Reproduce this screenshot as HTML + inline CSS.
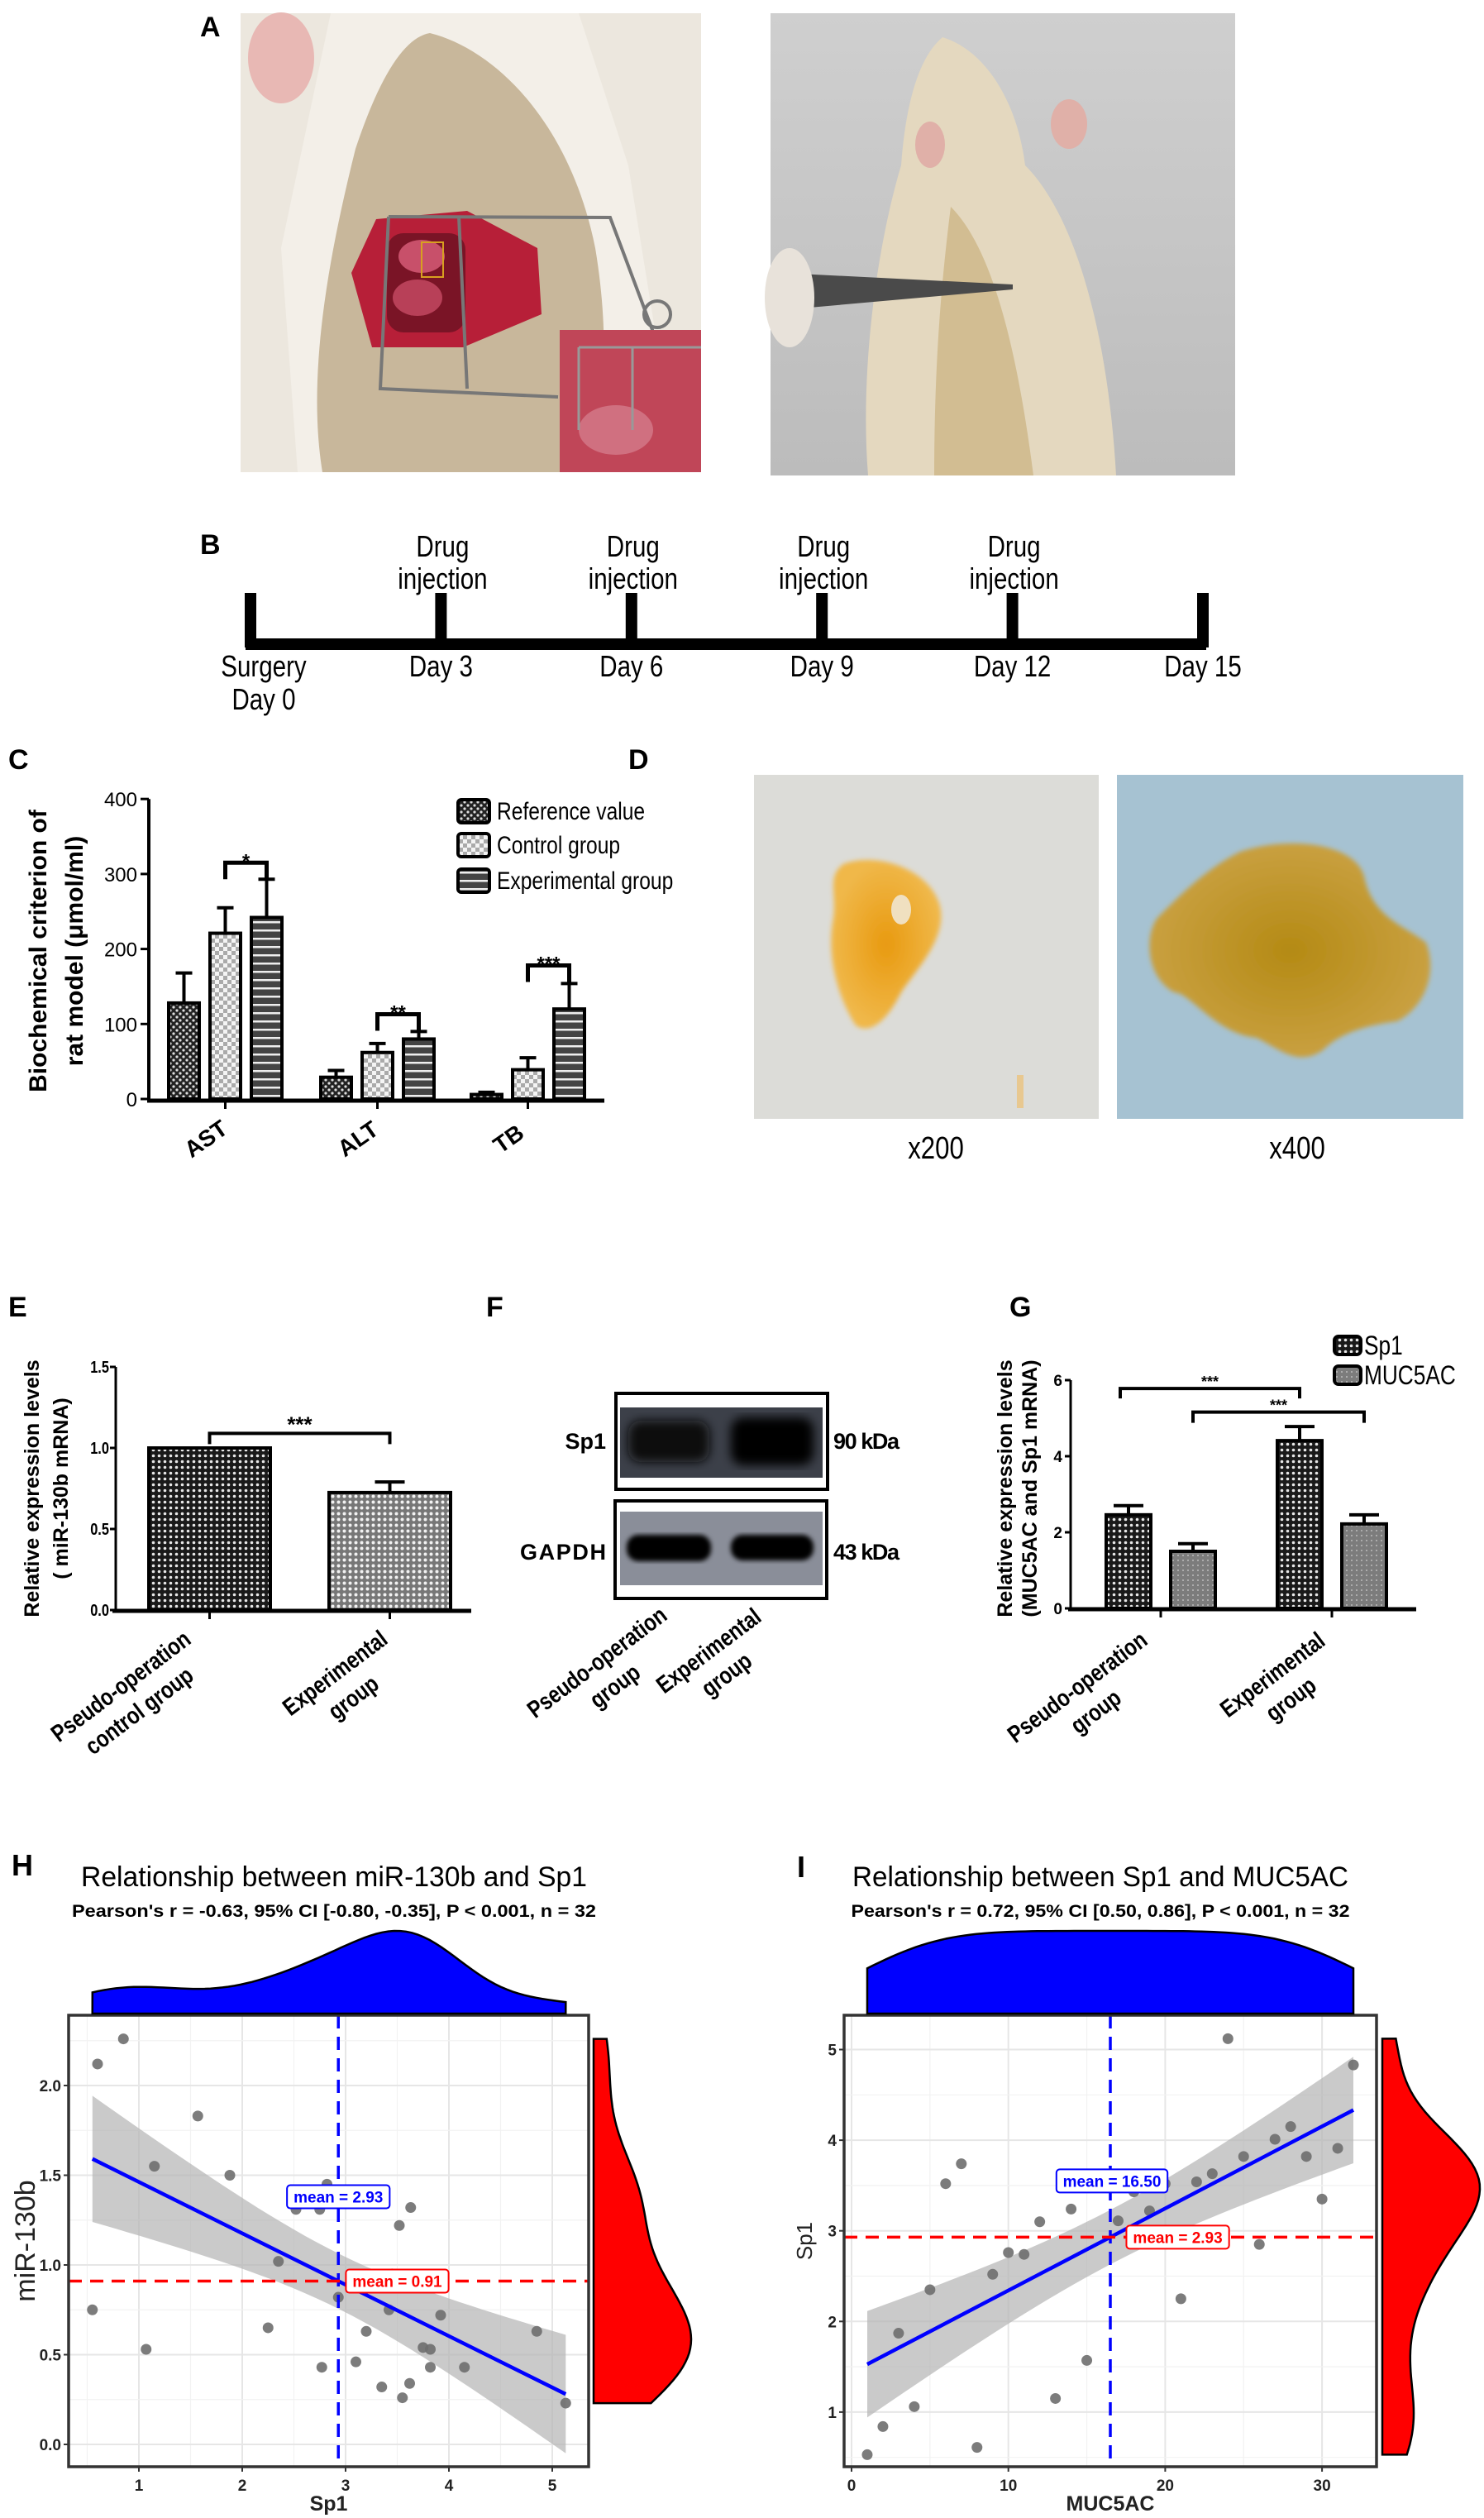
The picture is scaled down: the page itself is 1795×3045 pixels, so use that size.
<!DOCTYPE html>
<html><head><meta charset="utf-8">
<style>
html,body{margin:0;padding:0;background:#fff;}
svg{display:block;}
text{font-family:"Liberation Sans",sans-serif;}
.nar{font-family:"Liberation Sans Narrow","Liberation Sans",sans-serif;}
</style></head>
<body>
<svg id="fig" xmlns="http://www.w3.org/2000/svg" width="1795" height="3045" viewBox="0 0 1795 3045">
<defs>
<pattern id="pCross" width="8" height="8" patternUnits="userSpaceOnUse"><rect width="8" height="8" fill="#222"/><circle cx="2" cy="2" r="1.6" fill="#ddd"/><circle cx="6" cy="6" r="1.6" fill="#ddd"/></pattern>
<pattern id="pCheck" width="10" height="10" patternUnits="userSpaceOnUse"><rect width="10" height="10" fill="#f4f4f4"/><rect x="0" y="0" width="5" height="5" fill="#aaa"/><rect x="5" y="5" width="5" height="5" fill="#aaa"/></pattern>
<pattern id="pStripe" width="8" height="10" patternUnits="userSpaceOnUse"><rect width="8" height="10" fill="#444"/><rect y="4" width="8" height="2.5" fill="#eee"/></pattern>
<pattern id="pDark" width="7" height="7" patternUnits="userSpaceOnUse"><rect width="7" height="7" fill="#1a1a1a"/><circle cx="3.5" cy="3.5" r="1.8" fill="#e8e8e8"/></pattern>
<pattern id="pLight" width="7" height="7" patternUnits="userSpaceOnUse"><rect width="7" height="7" fill="#777"/><circle cx="3.5" cy="3.5" r="2" fill="#f2f2f2"/></pattern>
<pattern id="pMuc" width="6" height="6" patternUnits="userSpaceOnUse"><rect width="6" height="6" fill="#7c7c7c"/><circle cx="3" cy="3" r="1" fill="#bbb"/></pattern>
<linearGradient id="gBg2" x1="0" y1="0" x2="0" y2="1"><stop offset="0" stop-color="#cfcfcf"/><stop offset="1" stop-color="#bcbcbc"/></linearGradient>
<radialGradient id="gBlob1"><stop offset="0" stop-color="#e89a10"/><stop offset="1" stop-color="#f0b84a"/></radialGradient>
<radialGradient id="gBlob2"><stop offset="0" stop-color="#b48a14"/><stop offset="1" stop-color="#c9a040"/></radialGradient>
<filter id="blur3"><feGaussianBlur stdDeviation="3"/></filter>
<filter id="blur6"><feGaussianBlur stdDeviation="6"/></filter>
</defs>

<text x="242" y="44" font-size="34" font-weight="bold">A</text>
<g>
  <rect x="291" y="16" width="557" height="555" fill="#ece7de"/>
  <path d="M400,16 L700,16 L760,200 L820,571 L360,571 L340,300 Z" fill="#f3efe8"/>
  <path d="M520,40 C600,60 690,150 720,300 C740,420 730,520 700,571 L390,571 C370,450 400,300 430,180 C460,90 490,45 520,40 Z" fill="#c8b79b"/>
  <ellipse cx="340" cy="70" rx="40" ry="55" fill="#e8b8b4"/>
  <path d="M455,265 L565,255 L650,300 L655,380 L560,420 L450,420 L425,330 Z" fill="#b71f38"/>
  <rect x="468" y="282" width="95" height="120" rx="20" fill="#7a1426"/>
  <ellipse cx="510" cy="310" rx="28" ry="20" fill="#c8506a"/><ellipse cx="505" cy="360" rx="30" ry="22" fill="#b84058"/>
  <rect x="510" y="293" width="26" height="42" fill="none" stroke="#d8a020" stroke-width="2"/>
  <path d="M470,262 L738,263 L812,460 M470,262 L460,470 L675,480 M555,262 L565,470" fill="none" stroke="#777" stroke-width="4"/>
  <circle cx="795" cy="380" r="16" fill="none" stroke="#777" stroke-width="4"/>
  <rect x="677" y="399" width="171" height="172" fill="#c04658"/>
  <ellipse cx="745" cy="520" rx="45" ry="30" fill="#d07080"/>
  <path d="M700,420 L848,420 M700,420 L700,520 M765,420 L765,520" stroke="#999" stroke-width="3" fill="none"/>
</g>
<g>
  <rect x="932" y="16" width="562" height="559" fill="url(#gBg2)"/>
  <path d="M1140,45 C1190,60 1230,120 1240,200 C1300,260 1340,400 1350,575 L1050,575 C1040,450 1060,300 1090,200 C1095,130 1110,70 1140,45 Z" fill="#e4d8bf"/>
  <path d="M1150,250 C1200,300 1230,420 1250,575 L1130,575 C1130,430 1140,330 1150,250 Z" fill="#d2bd92"/>
  <ellipse cx="1293" cy="150" rx="22" ry="30" fill="#e0b0a8"/>
  <ellipse cx="1125" cy="175" rx="18" ry="28" fill="#e0b0a8"/>
  <polygon points="945,330 1225,344 1225,350 945,375" fill="#4a4a4a"/>
  <ellipse cx="955" cy="360" rx="30" ry="60" fill="#e8e2da"/>
</g>

<g>
  <text x="242" y="670" font-size="34" font-weight="bold">B</text>
  <rect x="297" y="772" width="1162" height="14" fill="#000"/>
  <g id="tl" class="nar" font-size="36" text-anchor="middle"></g>
</g>

<text x="10" y="930" font-size="34" font-weight="bold">C</text>
<g id="chartC"></g>

<text x="760" y="930" font-size="34" font-weight="bold">D</text>
<g>
  <rect x="912" y="937" width="417" height="416" fill="#dcdcd8"/>
  <path d="M1020,1045 C1060,1030 1120,1050 1135,1090 C1150,1130 1110,1170 1090,1200 C1070,1240 1050,1250 1035,1240 C1010,1200 1000,1150 1008,1110 C1012,1080 1000,1060 1020,1045 Z" fill="url(#gBlob1)" filter="url(#blur3)"/>
  <ellipse cx="1090" cy="1100" rx="12" ry="18" fill="#f0e0c0"/>
  <rect x="1230" y="1300" width="8" height="40" fill="#e8c890"/>
</g>
<g>
  <rect x="1351" y="937" width="419" height="416" fill="#a6c2d2"/>
  <path d="M1500,1030 C1560,1010 1640,1020 1650,1060 C1660,1110 1700,1120 1725,1140 C1740,1180 1720,1220 1690,1235 C1650,1240 1620,1250 1600,1270 C1570,1290 1550,1270 1520,1255 C1470,1250 1440,1200 1420,1200 C1385,1180 1385,1130 1400,1110 C1430,1080 1460,1050 1500,1030 Z" fill="url(#gBlob2)" filter="url(#blur3)"/>
</g>
<text class="nar" x="1132" y="1401" font-size="38" text-anchor="middle">x200</text>
<text class="nar" x="1569" y="1401" font-size="38" text-anchor="middle">x400</text>

<text x="10" y="1592" font-size="34" font-weight="bold">E</text>
<g id="chartE"></g>

<text x="588" y="1592" font-size="34" font-weight="bold">F</text>
<g>
  <rect x="745" y="1685" width="256" height="116" fill="#fff" stroke="#000" stroke-width="4"/>
  <rect x="750" y="1702" width="245" height="85" fill="#3c4049"/>
  <g filter="url(#blur6)"><rect x="760" y="1718" width="98" height="50" rx="15" fill="#0a0a0a"/><rect x="884" y="1714" width="100" height="58" rx="15" fill="#000"/></g>
  <rect x="744" y="1815" width="256" height="118" fill="#fff" stroke="#000" stroke-width="4"/>
  <rect x="750" y="1828" width="245" height="89" fill="#8a8e99"/>
  <g filter="url(#blur3)"><rect x="758" y="1856" width="102" height="32" rx="14" fill="#050505"/><rect x="884" y="1856" width="100" height="31" rx="14" fill="#050505"/></g>
  <text x="733" y="1752" font-size="27" font-weight="bold" text-anchor="end">Sp1</text>
  <text x="733" y="1886" font-size="27" font-weight="bold" text-anchor="end" textLength="104">GAPDH</text>
  <text x="1008" y="1752" font-size="27" font-weight="bold" textLength="80">90 kDa</text>
  <text x="1008" y="1886" font-size="27" font-weight="bold" textLength="80">43 kDa</text>
  <g font-size="29" font-weight="bold" text-anchor="middle" class="nar">
    <text class="nar" transform="translate(728,2018) rotate(-37)"><tspan x="0" y="0">Pseudo-operation</tspan><tspan x="0" y="36">group</tspan></text>
    <text class="nar" transform="translate(863,2004) rotate(-37)"><tspan x="0" y="0">Experimental</tspan><tspan x="0" y="36">group</tspan></text>
  </g>
</g>

<text x="1221" y="1592" font-size="34" font-weight="bold">G</text>
<g id="chartG"></g>

<text x="14" y="2268" font-size="36" font-weight="bold">H</text>
<g id="chartH"></g>
<text x="964" y="2270" font-size="36" font-weight="bold">I</text>
<g id="chartI"></g>
</svg>

<script>
const tlDays = ["Day 0","Day 3","Day 6","Day 9","Day 12","Day 15"];
const tlDayNums = [0,3,6,9,12,15];
const tlInjection = [false,true,true,true,true,false];

const cCategories = ["AST","ALT","TB"];
const cSeries = ["Reference value","Control group","Experimental group"];
const cRef = [128,29,6];
const cRefErr = [168,38,9];
const cCtrl = [221,62,39];
const cCtrlErr = [255,74,55];
const cExp = [242,80,120];
const cExpErr = [293,90,154];
const cYTicks = [0,100,200,300,400];
const cSigLevel = [315,113,178];
const cSigLabel = ["*","**","***"];

const eCategories = ["Pseudo-operation control group","Experimental group"];
const eValues = [1.0,0.725];
const eErr = [1.0,0.79];
const eYTicks = [0,0.5,1.0,1.5];
const eYTickLabels = ["0.0","0.5","1.0","1.5"];

const gCategories = ["Pseudo-operation group","Experimental group"];
const gSp1 = [2.46,4.41];
const gSp1Err = [2.7,4.78];
const gMuc = [1.5,2.22];
const gMucErr = [1.7,2.46];
const gYTicks = [0,2,4,6];

const hSp1 = [0.55,0.6,0.85,1.07,1.15,1.57,1.88,2.25,2.35,2.52,2.75,2.77,2.82,2.93,3.1,3.2,3.35,3.42,3.52,3.55,3.62,3.63,3.75,3.82,3.82,3.92,4.15,4.85,5.13,3.45,3.7,3.72];
const hMir = [0.75,2.12,2.26,0.53,1.55,1.83,1.5,0.65,1.02,1.31,1.31,0.43,1.45,0.82,0.46,0.63,0.32,0.75,1.22,0.26,0.34,1.32,0.54,0.53,0.43,0.72,0.43,0.63,0.23,0.95,0.9,0.93];
const hXTicks = [1,2,3,4,5];
const hYTicks = [0,0.5,1.0,1.5,2.0];
const hYTickLabels = ["0.0","0.5","1.0","1.5","2.0"];

const iMuc = [1,2,3,4,5,6,7,8,9,10,11,12,13,14,15,16,17,18,19,20,21,22,23,24,25,26,27,28,29,30,31,32];
const iSp1 = [0.53,0.84,1.87,1.06,2.35,3.52,3.74,0.61,2.52,2.76,2.74,3.1,1.15,3.24,1.57,3.6,3.11,3.43,3.22,3.52,2.25,3.54,3.63,5.12,3.82,2.85,4.01,4.15,3.82,3.35,3.91,4.83];
const iXTicks = [0,10,20,30];
const iYTicks = [1,2,3,4,5];

const NS = "http://www.w3.org/2000/svg";
function mk(tag, attrs, parent){
  const e = document.createElementNS(NS, tag);
  for (const k in attrs) e.setAttribute(k, attrs[k]);
  parent.appendChild(e);
  return e;
}
function txt(parent, x, y, s, attrs){
  const t = mk("text", Object.assign({x:x, y:y}, attrs||{}), parent);
  t.textContent = s;
  return t;
}

(function(){
  const g = document.getElementById("tl");
  const x = d => 303 + d * (1455-303)/15;
  tlDayNums.forEach((d,i)=>{
    const tk = mk("rect",{x:x(d)-7,y:717,width:14,height:66,fill:"#000"},g);
    
    
    if (i===0){
      const t1 = txt(g, x(d)+16, 818, "Surgery",{"class":"nar"});
      
      
      const t2 = txt(g, x(d)+16, 858, "Day 0",{"class":"nar"});
      
      
    } else {
      const t = txt(g, x(d), 818, tlDays[i],{"class":"nar"});
      
      
    }
    if (tlInjection[i]){
      const a = txt(g, x(d)+2, 673, "Drug",{"class":"nar"});
      
      
      const b = txt(g, x(d)+2, 712, "injection",{"class":"nar"});
      
      
    }
  });
})();

function errBar(g, cx, yTop, yErr, half){
  const l = mk("path",{d:`M${cx},${yTop} V${yErr} M${cx-half},${yErr} H${cx+half}`,stroke:"#000","stroke-width":4,fill:"none"},g);
  
  
}

(function(){
  const g = document.getElementById("chartC");
  const y = v => 1329 - v*0.907;
  const groupX = [204,388,570];
  const bw = 37, step = 50;
  mk("line",{x1:180,y1:y(400),x2:180,y2:1331,stroke:"#000","stroke-width":4},g);
  mk("line",{x1:178,y1:1331,x2:731,y2:1331,stroke:"#000","stroke-width":5},g);
  cYTicks.forEach(v=>{
    mk("line",{x1:170,y1:y(v),x2:180,y2:y(v),stroke:"#000","stroke-width":3},g);
    const t = txt(g,166,y(v)+9,String(v),{"font-size":24,"text-anchor":"end"});
    
    
  });
  const yl = mk("text",{transform:"translate(0,1150) rotate(-90)","font-size":30,"font-weight":"bold","text-anchor":"middle"},g);
  
  
  const ts1 = mk("tspan",{x:0,y:56},yl); ts1.textContent="Biochemical criterion of";
  const ts2 = mk("tspan",{x:0,y:100},yl); ts2.textContent="rat model (\u03bcmol/ml)";
  const series = [[cRef,cRefErr,"url(#pCross)"],[cCtrl,cCtrlErr,"url(#pCheck)"],[cExp,cExpErr,"url(#pStripe)"]];
  cCategories.forEach((c,i)=>{
    series.forEach((s,j)=>{
      const x0 = groupX[i] + j*step;
      errBar(g, x0+bw/2, y(s[0][i]), y(s[1][i]), 10);
      const r = mk("rect",{x:x0,y:y(s[0][i]),width:bw,height:y(0)-y(s[0][i]),fill:s[2],stroke:"#000","stroke-width":4},g);
      
      
    });
    const tickX = groupX[i]+step+bw/2;
    mk("line",{x1:tickX,y1:1331,x2:tickX,y2:1341,stroke:"#000","stroke-width":3},g);
    const lb = mk("text",{transform:`translate(${tickX-18},1385) rotate(-35)`,"font-size":28,"font-weight":"bold","text-anchor":"middle"},g);
    lb.textContent = c;
    
    
    const xa = groupX[i]+step+bw/2, xb = groupX[i]+2*step+bw/2, yb = y(cSigLevel[i]);
    const br = mk("path",{d:`M${xa},${yb+20} V${yb} H${xb} V${yb+20}`,stroke:"#000","stroke-width":5,fill:"none"},g);
    
    
    const st = txt(g,(xa+xb)/2,yb+6,cSigLabel[i],{"font-size":24,"text-anchor":"middle","font-weight":"bold"});
    
    
  });
  const fills = ["url(#pCross)","url(#pCheck)","url(#pStripe)"];
  const ly = [981,1022,1065];
  cSeries.forEach((s,i)=>{
    const b = mk("rect",{x:554,y:ly[i]-14,width:38,height:28,fill:fills[i],stroke:"#000","stroke-width":4,rx:4},g);
    
    
    const t = txt(g,601,ly[i]+10,s,{"font-size":30,"class":"nar"});
    
    
  });
})();

(function(){
  const g = document.getElementById("chartE");
  const y = v => 1947 - v*196;
  const barX = [180,398], bw = 147;
  mk("line",{x1:140,y1:y(1.5),x2:140,y2:1948,stroke:"#000","stroke-width":3},g);
  mk("line",{x1:136,y1:1948,x2:570,y2:1948,stroke:"#000","stroke-width":5},g);
  eYTicks.forEach((v,i)=>{
    mk("line",{x1:133,y1:y(v),x2:140,y2:y(v),stroke:"#000","stroke-width":3},g);
    const t = txt(g,132,y(v)+7,eYTickLabels[i],{"font-size":20,"font-weight":"bold","text-anchor":"end","class":"nar"});
    
    
  });
  const yl = mk("text",{transform:"translate(0,1800) rotate(-90)","font-size":25,"font-weight":"bold","text-anchor":"middle"},g);
  
  
  const a = mk("tspan",{x:0,y:47},yl); a.textContent="Relative expression levels";
  const b = mk("tspan",{x:0,y:82},yl); b.textContent="( miR-130b  mRNA)";
  const fills = ["url(#pDark)","url(#pLight)"];
  const centers = [[152,2047],[411,2031]];
  const lines = [["Pseudo-operation","control group"],["Experimental","group"]];
  eValues.forEach((v,i)=>{
    errBar(g, barX[i]+bw/2, y(v), y(eErr[i]), 18);
    const r = mk("rect",{x:barX[i],y:y(v),width:bw,height:y(0)-y(v),fill:fills[i],stroke:"#000","stroke-width":4},g);
    
    
    mk("line",{x1:barX[i]+bw/2,y1:1948,x2:barX[i]+bw/2,y2:1958,stroke:"#000","stroke-width":3},g);
    const lb = mk("text",{transform:`translate(${centers[i][0]},${centers[i][1]}) rotate(-37)`,"font-size":29,"font-weight":"bold","text-anchor":"middle","class":"nar"},g);
    
    
    const t1 = mk("tspan",{x:0,y:0},lb); t1.textContent = lines[i][0];
    const t2 = mk("tspan",{x:0,y:37},lb); t2.textContent = lines[i][1];
  });
  const xa = barX[0]+bw/2, xb = barX[1]+bw/2, yb = y(Math.max(eErr[0],eErr[1])+0.09);
  const br = mk("path",{d:`M${xa},${yb+13} V${yb} H${xb} V${yb+13}`,stroke:"#000","stroke-width":4,fill:"none"},g);
  
  
  const st = txt(g,(xa+xb)/2,yb-2,"***",{"font-size":26,"font-weight":"bold","text-anchor":"middle"});
  
  
})();

(function(){
  const g = document.getElementById("chartG");
  const y = v => 1945 - v*46;
  const sp1X = [1338,1545], mucX = [1416,1623], bw = 54;
  mk("line",{x1:1295,y1:y(6),x2:1295,y2:1946,stroke:"#000","stroke-width":3},g);
  mk("line",{x1:1292,y1:1946,x2:1713,y2:1946,stroke:"#000","stroke-width":5},g);
  gYTicks.forEach(v=>{
    mk("line",{x1:1288,y1:y(v),x2:1295,y2:y(v),stroke:"#000","stroke-width":3},g);
    const t = txt(g,1285,y(v)+7,String(v),{"font-size":19,"font-weight":"bold","text-anchor":"end"});
    
    
  });
  const yl = mk("text",{transform:"translate(0,1800) rotate(-90)","font-size":25,"font-weight":"bold","text-anchor":"middle"},g);
  
  
  const a = mk("tspan",{x:0,y:1224},yl); a.textContent="Relative expression levels";
  const b = mk("tspan",{x:0,y:1254},yl); b.textContent="(MUC5AC and Sp1 mRNA)";
  const centers = [[1309,2048],[1545,2033]];
  const lines = [["Pseudo-operation","group"],["Experimental","group"]];
  gCategories.forEach((c,i)=>{
    errBar(g, sp1X[i]+bw/2, y(gSp1[i]), y(gSp1Err[i]), 18);
    const r1 = mk("rect",{x:sp1X[i],y:y(gSp1[i]),width:bw,height:y(0)-y(gSp1[i]),fill:"url(#pDark)",stroke:"#000","stroke-width":4},g);
    
    
    errBar(g, mucX[i]+bw/2, y(gMuc[i]), y(gMucErr[i]), 18);
    const r2 = mk("rect",{x:mucX[i],y:y(gMuc[i]),width:bw,height:y(0)-y(gMuc[i]),fill:"url(#pMuc)",stroke:"#000","stroke-width":4},g);
    
    
    const tx = (sp1X[i]+mucX[i]+bw)/2;
    mk("line",{x1:tx,y1:1946,x2:tx,y2:1956,stroke:"#000","stroke-width":3},g);
    const lb = mk("text",{transform:`translate(${centers[i][0]},${centers[i][1]}) rotate(-37)`,"font-size":29,"font-weight":"bold","text-anchor":"middle","class":"nar"},g);
    
    
    const t1 = mk("tspan",{x:0,y:0},lb); t1.textContent = lines[i][0];
    const t2 = mk("tspan",{x:0,y:37},lb); t2.textContent = lines[i][1];
  });
  const b1a = sp1X[0]+17, b1b = sp1X[1]+bw/2, b1y = y(Math.max(gSp1Err[1],gSp1Err[0])+1.0);
  const br1 = mk("path",{d:`M${b1a},${b1y+12} V${b1y} H${b1b} V${b1y+12}`,stroke:"#000","stroke-width":4,fill:"none"},g);
  
  
  const s1 = txt(g,(b1a+b1b)/2,b1y-2,"***",{"font-size":18,"font-weight":"bold","text-anchor":"middle"});
  
  
  const b2a = mucX[0]+bw/2, b2b = mucX[1]+bw/2, b2y = y(Math.max(gSp1Err[1],gMucErr[1])+0.38);
  const br2 = mk("path",{d:`M${b2a},${b2y+13} V${b2y} H${b2b} V${b2y+13}`,stroke:"#000","stroke-width":4,fill:"none"},g);
  
  
  const s2 = txt(g,(b2a+b2b)/2,b2y-2,"***",{"font-size":18,"font-weight":"bold","text-anchor":"middle"});
  
  
  const lg = [["Sp1","url(#pDark)",1627],["MUC5AC","url(#pMuc)",1663]];
  lg.forEach(l=>{
    const sw = mk("rect",{x:1614,y:l[2]-11,width:32,height:22,rx:5,fill:l[1],stroke:"#000","stroke-width":4},g);
    
    
    const t = txt(g,1650,l[2]+11,l[0],{"font-size":32,"class":"nar"});
    
    
  });
})();

function mean(a){return a.reduce((s,v)=>s+v,0)/a.length;}
function sd(a){const m=mean(a);return Math.sqrt(a.reduce((s,v)=>s+(v-m)*(v-m),0)/(a.length-1));}
function kde(a, t){
  const n=a.length, s=sd(a); const q=[...a].sort((p,r)=>p-r);
  const iqr = q[Math.floor(0.75*(n-1))]-q[Math.floor(0.25*(n-1))];
  const bw = 0.9*Math.min(s, iqr/1.34 || s)*Math.pow(n,-0.2);
  return a.reduce((acc,v)=>acc+Math.exp(-0.5*((t-v)/bw)**2),0);
}
function scatter(cfg){
  const g = document.getElementById(cfg.id);
  const X = cfg.xs, Y = cfg.ys;
  const sx = v => cfg.x0 + v*cfg.kx, sy = v => cfg.y0 - v*cfg.ky;
  const B = cfg.box;
  const tt = txt(g,cfg.tcx,2281,cfg.title,{"font-size":34,"text-anchor":"middle",textLength:cfg.tlen,lengthAdjust:"spacingAndGlyphs"});
  
  
  const st = txt(g,cfg.tcx,2318,cfg.subtitle,{"font-size":21,"font-weight":"bold","text-anchor":"middle",textLength:cfg.slen,lengthAdjust:"spacingAndGlyphs"});
  
  
  mk("rect",{x:B[0],y:B[1],width:B[2]-B[0],height:B[3]-B[1],fill:"#fff"},g);
  const clip = mk("clipPath",{id:cfg.id+"clip"},g);
  mk("rect",{x:B[0],y:B[1],width:B[2]-B[0],height:B[3]-B[1]},clip);
  const pg = mk("g",{"clip-path":`url(#${cfg.id}clip)`},g);
  const xmin=(B[0]-cfg.x0)/cfg.kx, xmax=(B[2]-cfg.x0)/cfg.kx;
  const ymin=(cfg.y0-B[3])/cfg.ky, ymax=(cfg.y0-B[1])/cfg.ky;
  const xs = cfg.xTicks[1]-cfg.xTicks[0], ys = cfg.yTicks[1]-cfg.yTicks[0];
  for(let v=Math.floor(xmin/xs)*xs - xs/2; v<=xmax; v+=xs/2){
    const major = Math.abs(v/xs-Math.round(v/xs))<1e-6;
    mk("line",{x1:sx(v),y1:B[1],x2:sx(v),y2:B[3],stroke:major?"#e6e6e6":"#f2f2f2","stroke-width":major?2:1.2},pg);
  }
  for(let v=Math.floor(ymin/ys)*ys - ys/2; v<=ymax; v+=ys/2){
    const major = Math.abs(v/ys-Math.round(v/ys))<1e-6;
    mk("line",{x1:B[0],y1:sy(v),x2:B[2],y2:sy(v),stroke:major?"#e6e6e6":"#f2f2f2","stroke-width":major?2:1.2},pg);
  }
  const n=X.length, mx=mean(X), my=mean(Y);
  let sxx=0,sxy=0; X.forEach((v,i)=>{sxx+=(v-mx)**2; sxy+=(v-mx)*(Y[i]-my);});
  const b1=sxy/sxx, b0=my-b1*mx;
  let sse=0; X.forEach((v,i)=>{sse+=(Y[i]-b0-b1*v)**2;});
  const s=Math.sqrt(sse/(n-2)), tq=2.042;
  const xa=Math.min(...X), xb=Math.max(...X);
  let up="",lo="";
  for(let k=0;k<=40;k++){
    const v=xa+(xb-xa)*k/40, f=b0+b1*v, se=s*Math.sqrt(1/n+(v-mx)**2/sxx);
    up += (k?"L":"M")+sx(v).toFixed(1)+","+sy(f+tq*se).toFixed(1);
    lo = "L"+sx(v).toFixed(1)+","+sy(f-tq*se).toFixed(1)+lo;
  }
  const band = mk("path",{d:up+lo+"Z",fill:"#b3b3b3","fill-opacity":0.7},pg);
  
  
  X.forEach((v,i)=>{
    const c = mk("circle",{cx:sx(v),cy:sy(Y[i]),r:6.5,fill:"#6e6e6e","fill-opacity":0.9},pg);
    
    
  });
  const rl = mk("line",{x1:sx(xa),y1:sy(b0+b1*xa),x2:sx(xb),y2:sy(b0+b1*xb),stroke:"#0000ff","stroke-width":4.5},pg);
  
  
  const vl = mk("line",{x1:sx(mx),y1:B[1],x2:sx(mx),y2:B[3],stroke:"#0000ff","stroke-width":3.5,"stroke-dasharray":"16,10"},pg);
  
  
  const hl = mk("line",{x1:B[0],y1:sy(my),x2:B[2],y2:sy(my),stroke:"#ff0000","stroke-width":3.5,"stroke-dasharray":"16,10"},pg);
  
  
  function label(x,y,s,col,name){
    const w = s.length*10.2+12;
    const r = mk("rect",{x:x-w/2,y:y-14,width:w,height:28,rx:4,fill:"#fff",stroke:col,"stroke-width":2},g);
    
    
    const t = txt(g,x,y+7,s,{"font-size":19,"font-weight":"bold","text-anchor":"middle",fill:col});
    
    
  }
  label(sx(mx)+cfg.bxOff, sy(cfg.bLabY), "mean = "+mx.toFixed(2), "#0000ff", "x-mean-label");
  label(sx(cfg.rLabX), sy(my)+cfg.ryOff, "mean = "+my.toFixed(2), "#ff0000", "y-mean-label");
  mk("rect",{x:B[0],y:B[1],width:B[2]-B[0],height:B[3]-B[1],fill:"none",stroke:"#333","stroke-width":3.5},g);
  cfg.xTicks.forEach(v=>{
    mk("line",{x1:sx(v),y1:B[3],x2:sx(v),y2:B[3]+6,stroke:"#333","stroke-width":2},g);
    const t = txt(g,sx(v),B[3]+29,String(v),{"font-size":19,"font-weight":"bold","text-anchor":"middle",fill:"#222"});
    
    
  });
  cfg.yTicks.forEach((v,i)=>{
    mk("line",{x1:B[0]-6,y1:sy(v),x2:B[0],y2:sy(v),stroke:"#333","stroke-width":2},g);
    const t = txt(g,B[0]-9,sy(v)+7,cfg.yLabels[i],{"font-size":19,"font-weight":"bold","text-anchor":"end",fill:"#222"});
    
    
  });
  const xt = txt(g,(B[0]+B[2])/2,3036,cfg.xTitle,{"font-size":25,"font-weight":"bold","text-anchor":"middle",fill:"#222"});
  
  
  const yt = mk("text",{transform:`translate(${cfg.ytx},${(B[1]+B[3])/2}) rotate(-90)`,"font-size":cfg.ytSize,"text-anchor":"middle",fill:"#222"},g);
  yt.textContent = cfg.yTitle;
  
  
  let dTop=[], mxd=0;
  for(let k=0;k<=80;k++){const v=xa+(xb-xa)*k/80; const d=kde(X,v); dTop.push([v,d]); mxd=Math.max(mxd,d);}
  let p = `M${sx(xa)},2435`;
  dTop.forEach(q=>{p+=`L${sx(q[0]).toFixed(1)},${(2435-100*q[1]/mxd).toFixed(1)}`;});
  p += `L${sx(xb)},2435Z`;
  const td = mk("path",{d:p,fill:"#0000ff",stroke:"#000","stroke-width":2.5},g);
  
  
  const ya=Math.min(...Y), yb=Math.max(...Y);
  let dR=[], mr=0;
  for(let k=0;k<=80;k++){const v=ya+(yb-ya)*k/80; const d=kde(Y,v); dR.push([v,d]); mr=Math.max(mr,d);}
  const rx0 = cfg.rdx;
  let pr = `M${rx0},${sy(ya)}`;
  dR.forEach(q=>{pr+=`L${(rx0+118*q[1]/mr).toFixed(1)},${sy(q[0]).toFixed(1)}`;});
  pr += `L${rx0},${sy(yb)}Z`;
  const rd = mk("path",{d:pr,fill:"#ff0000",stroke:"#000","stroke-width":2.5},g);
  
  
}

scatter({id:"chartH", xs:hSp1, ys:hMir, x0:43, kx:125, y0:2956, ky:217, box:[83,2437,712,2983],
  xTicks:hXTicks, yTicks:hYTicks, yLabels:hYTickLabels,
  title:"Relationship between  miR-130b and Sp1", tcx:404, tlen:612,
  subtitle:"Pearson's r = -0.63,  95% CI [-0.80, -0.35], P < 0.001, n = 32", slen:634,
  xTitle:"Sp1", yTitle:"miR-130b", ytx:42, ytSize:34, bxOff:0, bLabY:1.38, rLabX:3.5, ryOff:0, rdx:718});

scatter({id:"chartI", xs:iMuc, ys:iSp1, x0:1030, kx:18.97, y0:3026.5, ky:109.6, box:[1021,2437,1665,2983],
  xTicks:iXTicks, yTicks:iYTicks, yLabels:iYTicks.map(String),
  title:"Relationship between Sp1 and MUC5AC", tcx:1331, tlen:600,
  subtitle:"Pearson's r = 0.72, 95% CI [0.50, 0.86], P < 0.001, n = 32", slen:603,
  xTitle:"MUC5AC", yTitle:"Sp1", ytx:982, ytSize:26, bxOff:2, bLabY:3.55, rLabX:20.8, ryOff:0, rdx:1672});

// condense "narrow" text (narrow font not installed)
document.querySelectorAll("text.nar").forEach(t=>{
  const spans = t.querySelectorAll("tspan");
  const targets = spans.length ? Array.from(spans) : [t];
  targets.forEach(el=>{
    try{
      const L = el.getComputedTextLength();
      if (L>0){ el.setAttribute("textLength",(L*0.82).toFixed(1)); el.setAttribute("lengthAdjust","spacingAndGlyphs"); }
    }catch(e){}
  });
});
</script>
</body></html>
